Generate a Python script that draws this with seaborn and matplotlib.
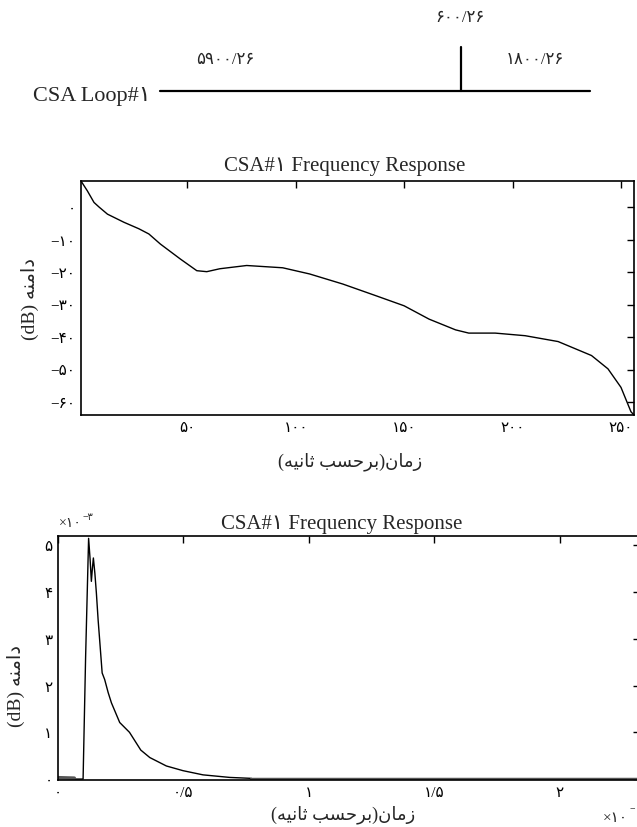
import numpy as np
import pandas as pd
import matplotlib
matplotlib.use("Agg")
import matplotlib.pyplot as plt
import seaborn as sns

sns.set_theme(style="white")
plt.rcParams['font.family'] = ['Liberation Serif', 'DejaVu Sans']
plt.rcParams['axes.unicode_minus'] = True

FA = str.maketrans('0123456789.-', '۰۱۲۳۴۵۶۷۸۹/−')


def fa(v):
    return str(v).translate(FA)


# ---- text ----
loop_name = 'CSA Loop#۱'
seg_left_label = '۵۹۰۰/۲۶'
seg_right_label = '۱۸۰۰/۲۶'
branch_label = '۶۰۰/۲۶'
title = 'CSA#۱ Frequency Response'
# visual-order, pre-shaped Persian words (matplotlib has no bidi/shaping)
w_zaman = '\uFEE5\uFE8E\uFEE3\uFEAF'          # زمان
w_barhasb = '\uFE90\uFEB4\uFEA3\uFEAE\uFE91'  # برحسب
w_sanie = '\uFEEA\uFEF4\uFEE7\uFE8E\uFE9B'    # ثانیه
w_damane = '\uFEEA\uFEE8\uFEE3\uFE8D\uFEA9'   # دامنه
xlabel = '(' + w_sanie + ' ' + w_barhasb + ')' + w_zaman   # زمان(برحسب ثانیه)
ylabel = '(dB) ' + w_damane

# ---- data: frequency response (dB) ----
freq_idx = [1, 3.9, 7, 9.3, 13.2, 20.8, 27.7, 32.3, 37.6, 46.8, 54.4, 59, 65,
            77.4, 94, 106.4, 121.7, 137, 150, 161.5, 173.7, 179.8, 192, 205.8,
            221, 236.4, 244, 250, 254.6, 256]
freq_db = [8, 5.0, 1.4, 0, -2.2, -4.7, -6.7, -8.3, -11.4, -16, -19.6, -19.9,
           -19, -18, -18.7, -20.6, -23.7, -27.3, -30.4, -34.5, -37.8, -38.8,
           -38.8, -39.6, -41.4, -45.7, -49.8, -55.5, -63, -64]
freq_xticks = [50, 100, 150, 200, 250]
freq_yticks = [0, -10, -20, -30, -40, -50, -60]

# ---- data: impulse response (x1e-3) ----
time_x = [0.065, 0.07, 0.095, 0.1, 0.11, 0.122, 0.128, 0.133, 0.137,
          0.141, 0.147, 0.153, 0.16, 0.166, 0.176, 0.186, 0.2, 0.213, 0.246,
          0.285, 0.33, 0.366, 0.432, 0.498, 0.578, 0.685, 0.771]
amp_e3 = [0.02, 0.0, 0.0, 0.0, 2.6, 5.15, 4.7, 4.23, 4.5, 4.73,
          4.4, 3.98, 3.4, 2.98, 2.27, 2.13, 1.85, 1.63, 1.21, 1.0, 0.62, 0.46,
          0.28, 0.18, 0.09, 0.035, 0.015]
head_x = [0.0, 0.065]
head_amp = [0.03, 0.02]
floor_x = [0.77, 2.32]
floor_amp = [0.012, 0.012]
time_xticks = [0, 0.5, 1, 1.5, 2]
time_xticklabels = ['۰', '۰/۵', '۱', '۱/۵', '۲']
amp_yticks = [0, 1, 2, 3, 4, 5]

W, H = 637, 828
fig = plt.figure(figsize=(W / 100, H / 100), dpi=100)


def box(l, t, r, b):
    return [l / W, 1 - b / H, (r - l) / W, (b - t) / H]


# ---- schematic ----
sch = fig.add_axes([0, 0, 1, 1], zorder=0)
sch.set_xlim(0, W)
sch.set_ylim(H, 0)
sch.axis('off')
sch.plot([160, 590], [92, 92], color='black', lw=1.6)
sch.plot([461, 461], [48, 92], color='black', lw=1.6)
sch.text(33, 97, loop_name, fontsize=16, ha='left', va='center')
sch.text(225, 60, seg_left_label, fontsize=12, ha='center', va='center')
sch.text(535, 60, seg_right_label, fontsize=12, ha='center', va='center')
sch.text(460, 18, branch_label, fontsize=12, ha='center', va='center')

tick_kw = dict(direction='in', length=5, width=1, top=True, right=True,
               labelsize=11, colors='black', pad=4)

# ---- top plot ----
ax1 = fig.add_axes(box(81, 182, 634, 416), zorder=1)
df1 = pd.DataFrame({'idx': freq_idx, 'db': freq_db})
sns.lineplot(data=df1, x='idx', y='db', ax=ax1, color='black', lw=1.0,
             estimator=None, sort=False)
ax1.set_xlim(1, 256)
ax1.set_ylim(-64, 8)
ax1.set_xticks(freq_xticks)
ax1.set_xticklabels([fa(v) for v in freq_xticks])
ax1.set_yticks(freq_yticks)
ax1.set_yticklabels([fa(v) for v in freq_yticks])
ax1.tick_params(**tick_kw)
ax1.set_title(title, fontsize=15, pad=8, x=0.477)
ax1.set_xlabel(xlabel, fontsize=13, labelpad=13, x=0.487)
ax1.set_ylabel(ylabel, fontsize=14, labelpad=8)
for s in ax1.spines.values():
    s.set_color('black')
    s.set_linewidth(1.2)

# ---- bottom plot ----
ax2 = fig.add_axes(box(58, 537, 640, 781), zorder=1)
df2 = pd.DataFrame({'t': time_x, 'a': amp_e3})
sns.lineplot(data=df2, x='t', y='a', ax=ax2, color='black', lw=1.0,
             estimator=None, sort=False)
df_head = pd.DataFrame({'t': head_x, 'a': head_amp})
sns.lineplot(data=df_head, x='t', y='a', ax=ax2, color='#555555', lw=2.5,
             estimator=None, sort=False)
df3 = pd.DataFrame({'t': floor_x, 'a': floor_amp})
sns.lineplot(data=df3, x='t', y='a', ax=ax2, color='#555555', lw=2.5,
             estimator=None, sort=False)
ax2.set_xlim(0, 2.32)
ax2.set_ylim(-0.02, 5.2)
ax2.set_xticks(time_xticks)
ax2.set_xticklabels(time_xticklabels)
ax2.set_yticks(amp_yticks)
ax2.set_yticklabels([fa(v) for v in amp_yticks])
ax2.tick_params(**tick_kw)
ax2.set_title(title, fontsize=15, pad=6, x=0.487)
ax2.set_xlabel(xlabel, fontsize=13, labelpad=4, x=0.49)
ax2.set_ylabel(ylabel, fontsize=14, labelpad=14, y=0.39)
for s in ax2.spines.values():
    s.set_color('black')
    s.set_linewidth(1.2)

# offset texts
sch.text(59, 524, '×۱۰', fontsize=10, ha='left', va='center')
sch.text(83, 518, '−۳', fontsize=7, ha='left', va='center')
sch.text(603, 819, '×۱۰', fontsize=11, ha='left', va='center')
sch.text(630, 810, '−', fontsize=7, ha='left', va='center')

fig.savefig('out.png', dpi=100)
